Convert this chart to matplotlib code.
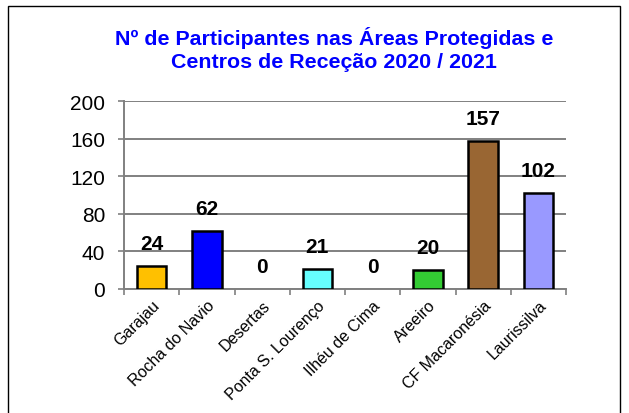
import matplotlib; matplotlib.use("Agg")
import matplotlib.pyplot as plt
from matplotlib.patches import Rectangle
import numpy as np

plt.rcParams["font.family"] = ["Liberation Sans", "DejaVu Sans"]

AREAS = ["Garajau", "Rocha do Navio", "Desertas", "Ponta S. Lourenço",
         "Ilhéu de Cima", "Areeiro", "CF Macaronésia", "Laurissilva"]
PARTICIPANTES = [24, 62, 0, 21, 0, 20, 157, 102]
CORES = ["#FFC000", "#0000FF", "#FFFFFF", "#66FFFF",
         "#FFFFFF", "#33CC33", "#996633", "#9999FF"]
YTICKS = [0, 40, 80, 120, 160, 200]
TITULO = "Nº de Participantes nas Áreas Protegidas e\nCentros de Receção 2020 / 2021"

fig = plt.figure(figsize=(6.29, 4.14), dpi=100)
fig.patches.append(Rectangle((8/629, -0.05), 612/629, 1.05 - 7/414, transform=fig.transFigure,
                             fill=False, edgecolor="black", lw=1.0))
ax = fig.add_axes([124/629, 124/414, 442/629, 188/414])

x = np.arange(len(AREAS))
for xi, v, c in zip(x, PARTICIPANTES, CORES):
    if v > 0:
        ax.bar(xi, v, width=0.53, color=c, edgecolor="black", lw=1.8, zorder=3)
    ax.annotate(str(v), (xi, v), xytext=(0, 9.5), textcoords="offset points",
                ha="center", va="bottom", fontsize=15, fontweight="bold")

ax.set_xlim(-0.5, len(AREAS) - 0.5)
ax.set_ylim(0, 200)
ax.set_yticks(YTICKS)
ax.tick_params(axis="y", labelsize=15, length=4.5, width=1.2, color="#808080", pad=9)
ax.set_xticks(np.arange(len(AREAS) + 1) - 0.5, minor=False)
ax.set_xticklabels([])
ax.set_xticks(x, minor=True)
ax.set_xticklabels(AREAS, minor=True, rotation=45, ha="right", rotation_mode="anchor",
                   fontsize=11.5)
ax.tick_params(axis="x", which="major", length=4, width=1.2, color="#808080")
ax.tick_params(axis="x", which="minor", length=0, pad=6)
ax.grid(True, axis="y", color="#808080", lw=1.4, zorder=0)
for s in ("top", "right"):
    ax.spines[s].set_visible(False)
for s in ("left", "bottom"):
    ax.spines[s].set_color("#808080"); ax.spines[s].set_linewidth(1.4)

fig.text(334/629, 1 - 27/414, TITULO, ha="center", va="top", color="#0000FF",
         fontsize=15.4, fontweight="bold", linespacing=1.3)

fig.savefig("out.png", dpi=100, facecolor="white")
